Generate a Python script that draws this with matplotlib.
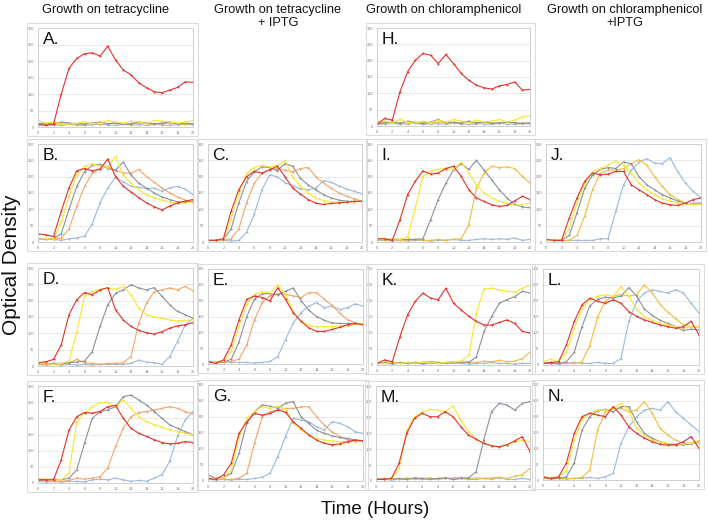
import matplotlib
matplotlib.use("Agg")
import matplotlib.pyplot as plt
from matplotlib.patches import Rectangle

plt.rcParams["font.family"] = ["Liberation Sans", "DejaVu Sans"]

TIME_HOURS = list(range(21))
X_TICKS = list(range(0, 21, 2))
Y_TICKS = [0, 50, 100, 150, 200, 250, 300]

COLUMN_TITLES = [
    "Growth on tetracycline",
    "Growth on tetracycline\n+ IPTG",
    "Growth on chloramphenicol",
    "Growth on chloramphenicol\n+IPTG",
]

# --- tetracycline -------------------------------------------------------
A_RED = [8, 5, 8, 100, 178, 208, 222, 225, 215, 245, 203, 173, 158, 134, 119, 107, 104, 112, 120, 137, 135]
A_YELLOW = [20, 12, 15, 10, 8, 12, 15, 10, 12, 20, 15, 12, 18, 15, 10, 20, 18, 15, 12, 15, 20]
A_GREY = [10, 12, 8, 15, 12, 10, 8, 12, 15, 10, 12, 8, 10, 15, 12, 10, 12, 15, 10, 12, 10]
A_ORANGE = [8, 10, 12, 8, 10, 8, 12, 10, 8, 10, 12, 8, 10, 12, 10, 8, 10, 12, 10, 8, 10]
A_BLUE = [5, 8, 6, 5, 8, 6, 5, 7, 8, 6, 5, 8, 6, 7, 5, 8, 6, 5, 7, 8, 6]

B_RED = [25, 22, 17, 94, 166, 218, 225, 218, 223, 254, 200, 171, 153, 136, 120, 108, 98, 110, 120, 125, 130]
B_YELLOW = [10, 10, 10, 60, 140, 205, 232, 240, 232, 228, 262, 205, 180, 160, 145, 135, 128, 122, 120, 120, 122]
B_GREY = [10, 10, 10, 25, 100, 170, 215, 235, 238, 225, 220, 245, 205, 180, 165, 150, 138, 130, 123, 122, 125]
B_ORANGE = [10, 8, 10, 12, 40, 110, 170, 210, 225, 230, 218, 212, 210, 222, 200, 183, 165, 150, 138, 128, 120]
B_BLUE = [8, 10, 8, 5, 10, 12, 18, 55, 120, 165, 198, 185, 170, 168, 163, 165, 155, 166, 170, 162, 145]

D_RED = [10, 13, 20, 65, 157, 203, 225, 218, 233, 240, 172, 141, 121, 109, 102, 98, 105, 116, 123, 126, 133]
D_YELLOW = [8, 8, 5, 8, 15, 105, 213, 228, 235, 238, 235, 244, 218, 177, 157, 150, 146, 141, 138, 140, 142]
D_GREY = [8, 8, 8, 8, 10, 12, 15, 44, 121, 187, 223, 233, 249, 239, 233, 240, 213, 187, 167, 157, 146]
D_ORANGE = [5, 5, 8, 5, 10, 20, 10, 8, 5, 8, 8, 10, 29, 131, 193, 228, 233, 239, 233, 244, 230]
D_BLUE = [5, 3, 5, 3, 5, 3, 5, 3, 5, 5, 5, 5, 8, 18, 12, 10, 5, 29, 75, 126, 146]

F_RED = [10, 10, 10, 72, 164, 205, 218, 216, 221, 236, 240, 200, 169, 154, 144, 134, 125, 121, 123, 128, 125]
F_YELLOW = [15, 12, 10, 10, 31, 190, 216, 236, 249, 249, 236, 257, 231, 205, 190, 180, 173, 164, 159, 154, 149]
F_GREY = [10, 10, 12, 10, 15, 41, 123, 200, 221, 226, 236, 267, 272, 257, 241, 221, 200, 180, 169, 159, 149]
F_ORANGE = [8, 8, 5, 5, 8, 15, 12, 15, 20, 46, 113, 169, 205, 218, 221, 226, 231, 236, 231, 221, 214]
F_BLUE = [5, 3, 5, 3, 5, 5, 3, 10, 12, 10, 15, 10, 5, 8, 5, 15, 26, 67, 144, 195, 221]

# --- tetracycline + IPTG ------------------------------------------------
C_RED = [5, 5, 10, 94, 160, 200, 216, 211, 221, 232, 200, 165, 147, 130, 119, 115, 118, 120, 122, 124, 125]
C_YELLOW = [5, 5, 8, 70, 150, 210, 228, 235, 230, 235, 248, 200, 170, 150, 135, 127, 122, 122, 122, 123, 125]
C_GREY = [5, 5, 8, 40, 120, 185, 215, 230, 228, 218, 240, 232, 195, 175, 160, 145, 135, 128, 125, 124, 125]
C_ORANGE = [5, 5, 5, 10, 40, 120, 180, 210, 222, 225, 220, 215, 225, 228, 200, 180, 165, 150, 140, 132, 125]
C_BLUE = [5, 5, 5, 3, 5, 30, 85, 160, 205, 200, 182, 172, 163, 160, 165, 188, 183, 172, 162, 155, 148]

E_RED = [7, 2, 13, 61, 140, 204, 215, 210, 199, 241, 204, 162, 135, 114, 103, 103, 109, 116, 124, 128, 124]
E_YELLOW = [5, 5, 8, 40, 120, 190, 220, 228, 225, 250, 220, 165, 135, 122, 118, 118, 118, 120, 122, 125, 128]
E_GREY = [5, 5, 5, 15, 70, 150, 205, 222, 222, 218, 230, 240, 200, 170, 150, 138, 130, 128, 128, 128, 125]
E_ORANGE = [5, 5, 5, 8, 15, 60, 140, 195, 215, 222, 220, 215, 210, 225, 225, 205, 185, 160, 140, 130, 125]
E_BLUE = [10, 5, 8, 5, 5, 5, 3, 5, 8, 23, 77, 130, 162, 183, 194, 178, 183, 172, 178, 190, 183]

G_RED = [8, 5, 19, 55, 149, 185, 211, 206, 211, 222, 215, 185, 165, 144, 128, 118, 113, 116, 123, 128, 126]
G_YELLOW = [10, 5, 8, 34, 139, 196, 217, 232, 227, 234, 225, 180, 159, 144, 133, 128, 125, 123, 123, 124, 126]
G_GREY = [19, 8, 10, 24, 86, 180, 217, 238, 234, 227, 243, 248, 201, 180, 159, 149, 141, 136, 133, 128, 125]
G_ORANGE = [5, 5, 5, 5, 8, 24, 118, 201, 217, 222, 227, 227, 232, 232, 201, 175, 154, 139, 128, 123, 126]
G_BLUE = [5, 3, 5, 3, 5, 5, 8, 12, 24, 76, 139, 196, 191, 185, 170, 159, 185, 180, 170, 154, 149]

# --- chloramphenicol ----------------------------------------------------
H_RED = [5, 23, 18, 105, 166, 201, 222, 217, 191, 219, 191, 161, 140, 125, 117, 113, 123, 127, 135, 110, 112]
H_YELLOW = [12, 15, 10, 20, 12, 8, 15, 10, 18, 12, 20, 15, 10, 18, 12, 15, 20, 12, 18, 28, 32]
H_GREY = [8, 10, 12, 8, 15, 10, 8, 12, 20, 10, 12, 8, 15, 10, 12, 8, 10, 12, 10, 8, 10]
H_ORANGE = [10, 8, 12, 10, 8, 12, 10, 8, 12, 10, 8, 12, 10, 8, 12, 10, 8, 12, 10, 8, 10]
H_BLUE = [5, 6, 8, 5, 6, 8, 5, 6, 7, 5, 8, 6, 5, 7, 6, 5, 8, 6, 5, 7, 6]

I_RED = [10, 10, 5, 68, 145, 186, 218, 208, 211, 225, 232, 201, 160, 135, 124, 114, 109, 112, 126, 140, 130]
I_YELLOW = [8, 8, 10, 8, 15, 104, 200, 218, 222, 226, 222, 245, 210, 175, 150, 135, 125, 118, 112, 115, 120]
I_GREY = [8, 8, 8, 8, 8, 8, 10, 68, 130, 180, 221, 240, 222, 250, 220, 190, 160, 135, 115, 108, 105]
I_ORANGE = [8, 5, 8, 5, 5, 8, 5, 5, 8, 5, 8, 10, 53, 165, 211, 232, 228, 230, 225, 201, 180]
I_BLUE = [5, 5, 3, 5, 3, 5, 5, 3, 5, 5, 8, 5, 5, 8, 10, 8, 10, 8, 12, 5, 8]

K_RED = [5, 16, 10, 89, 157, 199, 225, 209, 204, 240, 193, 172, 152, 136, 125, 125, 133, 141, 130, 105, 100]
K_YELLOW = [8, 5, 8, 5, 8, 5, 10, 8, 5, 8, 10, 12, 30, 162, 238, 240, 235, 230, 228, 240, 250]
K_GREY = [5, 8, 5, 8, 5, 8, 5, 10, 8, 5, 8, 10, 8, 26, 105, 152, 193, 204, 214, 230, 225]
K_ORANGE = [5, 8, 10, 5, 8, 5, 8, 10, 5, 8, 10, 8, 10, 8, 12, 10, 15, 10, 12, 20, 40]
K_BLUE = [5, 5, 3, 5, 8, 5, 3, 5, 5, 8, 5, 5, 3, 5, 5, 8, 5, 5, 3, 5, 5]

M_RED = [5, 5, 8, 56, 151, 198, 214, 203, 203, 219, 203, 172, 145, 132, 119, 111, 108, 114, 127, 140, 93]
M_YELLOW = [5, 5, 5, 40, 161, 203, 219, 226, 224, 219, 237, 193, 156, 132, 119, 111, 108, 114, 124, 128, 124]
M_GREY = [5, 8, 5, 8, 5, 10, 8, 5, 8, 10, 5, 8, 10, 29, 130, 219, 245, 240, 224, 245, 251]
M_ORANGE = [5, 5, 8, 5, 10, 5, 8, 10, 5, 8, 10, 12, 8, 10, 8, 10, 12, 8, 15, 20, 40]
M_BLUE = [5, 5, 3, 5, 5, 8, 5, 8, 5, 10, 5, 8, 5, 5, 8, 5, 10, 5, 5, 8, 5]

# --- chloramphenicol + IPTG ---------------------------------------------
J_RED = [8, 5, 5, 73, 135, 186, 211, 206, 208, 216, 216, 175, 160, 145, 130, 119, 114, 112, 119, 130, 135]
J_YELLOW = [5, 5, 8, 40, 120, 180, 215, 225, 235, 248, 235, 210, 180, 160, 145, 132, 125, 120, 118, 116, 115]
J_GREY = [5, 5, 5, 20, 90, 165, 205, 222, 228, 225, 245, 240, 200, 175, 160, 145, 135, 125, 118, 118, 120]
J_ORANGE = [5, 5, 5, 5, 20, 80, 160, 210, 220, 220, 225, 240, 252, 235, 200, 170, 145, 130, 120, 115, 115]
J_BLUE = [5, 5, 5, 5, 5, 5, 5, 10, 10, 94, 175, 220, 245, 255, 242, 240, 258, 215, 180, 155, 135]

L_RED = [5, 8, 10, 63, 136, 188, 209, 199, 193, 204, 193, 167, 152, 141, 133, 125, 120, 115, 120, 136, 94]
L_YELLOW = [10, 18, 10, 40, 115, 175, 205, 215, 220, 215, 245, 215, 175, 150, 140, 130, 125, 120, 115, 120, 122]
L_GREY = [5, 5, 5, 10, 40, 120, 185, 205, 212, 210, 215, 242, 215, 175, 155, 140, 130, 120, 108, 112, 110]
L_ORANGE = [5, 5, 5, 5, 5, 10, 60, 150, 200, 215, 220, 215, 220, 250, 225, 190, 165, 145, 125, 120, 118]
L_BLUE = [5, 5, 3, 5, 8, 5, 5, 8, 5, 5, 20, 136, 199, 225, 235, 230, 225, 235, 225, 193, 162]

N_RED = [10, 5, 10, 53, 147, 200, 211, 205, 200, 232, 205, 168, 147, 132, 121, 113, 110, 111, 121, 137, 100]
N_YELLOW = [10, 8, 8, 30, 126, 190, 211, 221, 221, 226, 242, 221, 163, 142, 126, 121, 116, 114, 114, 116, 118]
N_GREY = [8, 5, 5, 10, 53, 158, 200, 219, 223, 216, 232, 232, 184, 147, 132, 121, 114, 111, 111, 114, 121]
N_ORANGE = [5, 5, 5, 5, 5, 8, 32, 158, 216, 226, 226, 216, 221, 247, 211, 163, 142, 126, 116, 116, 124]
N_BLUE = [5, 3, 5, 3, 5, 5, 8, 5, 10, 21, 116, 168, 200, 221, 226, 221, 247, 216, 195, 174, 153]

PANEL_SERIES = {
    "A": (A_BLUE, A_ORANGE, A_GREY, A_YELLOW, A_RED),
    "B": (B_BLUE, B_ORANGE, B_GREY, B_YELLOW, B_RED),
    "C": (C_BLUE, C_ORANGE, C_GREY, C_YELLOW, C_RED),
    "D": (D_BLUE, D_ORANGE, D_GREY, D_YELLOW, D_RED),
    "E": (E_BLUE, E_ORANGE, E_GREY, E_YELLOW, E_RED),
    "F": (F_BLUE, F_ORANGE, F_GREY, F_YELLOW, F_RED),
    "G": (G_BLUE, G_ORANGE, G_GREY, G_YELLOW, G_RED),
    "H": (H_BLUE, H_ORANGE, H_GREY, H_YELLOW, H_RED),
    "I": (I_BLUE, I_ORANGE, I_GREY, I_YELLOW, I_RED),
    "J": (J_BLUE, J_ORANGE, J_GREY, J_YELLOW, J_RED),
    "K": (K_BLUE, K_ORANGE, K_GREY, K_YELLOW, K_RED),
    "L": (L_BLUE, L_ORANGE, L_GREY, L_YELLOW, L_RED),
    "M": (M_BLUE, M_ORANGE, M_GREY, M_YELLOW, M_RED),
    "N": (N_BLUE, N_ORANGE, N_GREY, N_YELLOW, N_RED),
}

# plot-area boxes in pixels: left, top, right, bottom
PANEL_BOX = {
    "A": (38, 28, 193, 127), "H": (377, 28, 530, 126),
    "B": (38, 144, 193, 242), "C": (208, 144, 362, 242),
    "I": (377, 144, 530, 242), "J": (546, 144, 701, 242),
    "D": (38, 268, 193, 366), "E": (208, 269, 363, 364),
    "K": (377, 269, 530, 365), "L": (543, 269, 699, 365),
    "F": (38, 386, 193, 483), "G": (208, 385, 363, 481),
    "M": (376, 386, 530, 481), "N": (543, 385, 699, 480),
}
TETRA_ORANGE = "#f4a367"
CHLOR_ORANGE = "#f3bc3c"
BASE_COLORS = ["#9db8da", None, "#8c9099", "#f7e62e", "#e5302a"]

W, H = 708, 523
fig = plt.figure(figsize=(W / 100, H / 100), dpi=100)


def draw_panel(letter):
    left, top, right, bottom = PANEL_BOX[letter]
    fig.add_artist(Rectangle(((left - 11) / W, 1 - (bottom + 9) / H),
                             (right - left + 16) / W, (bottom - top + 14) / H,
                             transform=fig.transFigure, fill=False,
                             edgecolor="#dcdcdc", linewidth=0.8))
    ax = fig.add_axes([left / W, 1 - bottom / H, (right - left) / W, (bottom - top) / H])
    orange = CHLOR_ORANGE if letter in "HIJKLMN" else TETRA_ORANGE
    for values, color in zip(PANEL_SERIES[letter], BASE_COLORS):
        ax.plot(TIME_HOURS, values, color=color or orange, linewidth=0.8,
                marker="o", markersize=1.4, markeredgewidth=0)
    ax.set_xlim(0, 20)
    ax.set_ylim(0, 300)
    ax.set_xticks(X_TICKS)
    ax.set_yticks(Y_TICKS)
    ax.tick_params(length=0, labelsize=2.8, labelcolor="#7a7a7a", pad=3)
    ax.grid(axis="y", color="#e4e4e4", linewidth=0.6)
    ax.set_axisbelow(True)
    for spine in ax.spines.values():
        spine.set_color("#cfcfcf")
        spine.set_linewidth(0.7)
    ax.text(0.03, 0.96, f"{letter}.", transform=ax.transAxes, ha="left", va="top",
            fontsize=12.5, color="#111111")


for letter in PANEL_BOX:
    draw_panel(letter)

title_x = [106, 278, 444, 625]
for x, title in zip(title_x, COLUMN_TITLES):
    fig.text(x / W, 1 - 4 / H, title, ha="center", va="top", fontsize=9.2,
             linespacing=1.15, color="#111111")

fig.text(12 / W, 1 - 265 / H, "Optical Density", rotation=90, ha="center", va="center",
         fontsize=15, color="#111111")
fig.text(375 / W, 1 - 510 / H, "Time (Hours)", ha="center", va="center",
         fontsize=13.5, color="#111111")

fig.savefig("out.png", dpi=100)
